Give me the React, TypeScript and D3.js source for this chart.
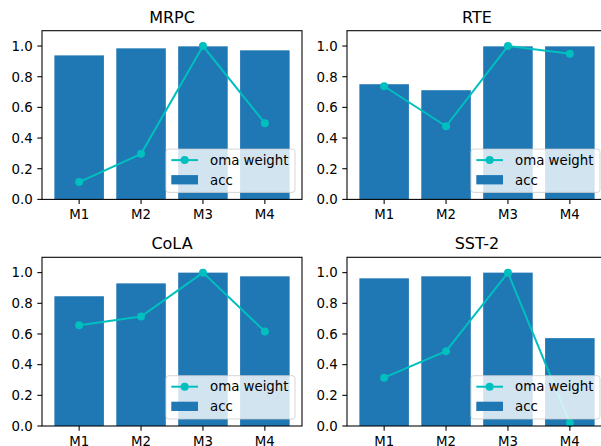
import React from "react";
import * as d3 from "d3";

// categories and series
const models = ["M1", "M2", "M3", "M4"];
const tasks = ["MRPC", "RTE", "CoLA", "SST-2"];

const accMRPC = [0.939, 0.985, 0.998, 0.972];
const accRTE = [0.751, 0.712, 0.998, 0.998];
const accCoLA = [0.846, 0.93, 1.0, 0.976];
const accSST2 = [0.963, 0.976, 1.0, 0.573];

const omaMRPC = [0.113, 0.297, 1.0, 0.497];
const omaRTE = [0.738, 0.477, 1.0, 0.95];
const omaCoLA = [0.657, 0.714, 1.0, 0.616];
const omaSST2 = [0.315, 0.488, 1.0, 0.02];

const yTicks = [0, 0.2, 0.4, 0.6, 0.8, 1.0];
const yMax = 1.1;

const accByTask = [accMRPC, accRTE, accCoLA, accSST2];
const omaByTask = [omaMRPC, omaRTE, omaCoLA, omaSST2];

const W = 601;
const H = 446;
const font = "DejaVu Sans, sans-serif";
const barColor = "#1f77b4";
const lineColor = "#00bfbf";

// axes boxes (left, top) for the 2x2 grid
const colX = [42, 347];
const rowY = [30.7, 257.3];
const axW = 260;
const axH = 168.7;

const Panel = ({ title, acc, oma, x0, y0 }: { title: string; acc: number[]; oma: number[]; x0: number; y0: number }) => {
  const x = d3.scaleBand().domain(models).range([0, axW]).padding(0.2);
  const y = d3.scaleLinear().domain([0, yMax]).range([axH, 0]);
  const cx = (m: string) => (x(m) as number) + x.bandwidth() / 2;

  const line = d3
    .line<number>()
    .x((_, i) => cx(models[i]))
    .y((d) => y(d));

  // legend (lower right)
  const lgW = 129;
  const lgH = 43.3;
  const lgX = axW - 7 - lgW;
  const lgY = axH - 7 - lgH;

  return (
    <g transform={`translate(${x0},${y0})`}>
      <text x={axW / 2} y={-8} textAnchor="middle" fontSize={16} fontFamily={font} fill="#000">
        {title}
      </text>

      {/* bars */}
      {acc.map((v, i) => (
        <rect key={models[i]} x={x(models[i])} y={y(v)} width={x.bandwidth()} height={axH - y(v)} fill={barColor} />
      ))}

      {/* oma weight line */}
      <path d={line(oma) || ""} fill="none" stroke={lineColor} strokeWidth={2} />
      {oma.map((v, i) => (
        <circle key={i} cx={cx(models[i])} cy={y(v)} r={4} fill={lineColor} />
      ))}

      {/* y axis */}
      {yTicks.map((t) => (
        <g key={t} transform={`translate(0,${y(t)})`}>
          <line x1={-4.7} x2={0} stroke="#000" strokeWidth={1.07} />
          <text x={-9.3} dy={4.8} textAnchor="end" fontSize={13.33} fontFamily={font} fill="#000">
            {t.toFixed(1)}
          </text>
        </g>
      ))}

      {/* x axis */}
      {models.map((m) => (
        <g key={m} transform={`translate(${cx(m)},${axH})`}>
          <line y1={0} y2={4.7} stroke="#000" strokeWidth={1.07} />
          <text y={20} textAnchor="middle" fontSize={13.33} fontFamily={font} fill="#000">
            {m}
          </text>
        </g>
      ))}

      {/* frame */}
      <rect x={0} y={0} width={axW} height={axH} fill="none" stroke="#000" strokeWidth={1.07} />

      {/* legend */}
      <g transform={`translate(${lgX},${lgY})`}>
        <rect width={lgW} height={lgH} rx={2.7} fill="#fff" fillOpacity={0.8} stroke="#ccc" strokeOpacity={0.8} strokeWidth={1} />
        <line x1={5.3} x2={32} y1={11} y2={11} stroke={lineColor} strokeWidth={2} />
        <circle cx={18.7} cy={11} r={4} fill={lineColor} />
        <text x={44} y={11} dy={4.8} fontSize={13.33} fontFamily={font} fill="#000">
          oma weight
        </text>
        <rect x={5.3} y={26} width={26.7} height={9.3} fill={barColor} />
        <text x={44} y={31} dy={4.8} fontSize={13.33} fontFamily={font} fill="#000">
          acc
        </text>
      </g>
    </g>
  );
};

const App = () => {
  return (
    <svg width={W} height={H} style={{ position: "absolute", left: 0, top: 0, background: "#fff" }}>
      <rect width={W} height={H} fill="#fff" />
      {tasks.map((t, i) => (
        <Panel key={t} title={t} acc={accByTask[i]} oma={omaByTask[i]} x0={colX[i % 2]} y0={rowY[Math.floor(i / 2)]} />
      ))}
    </svg>
  );
};

export default App;
